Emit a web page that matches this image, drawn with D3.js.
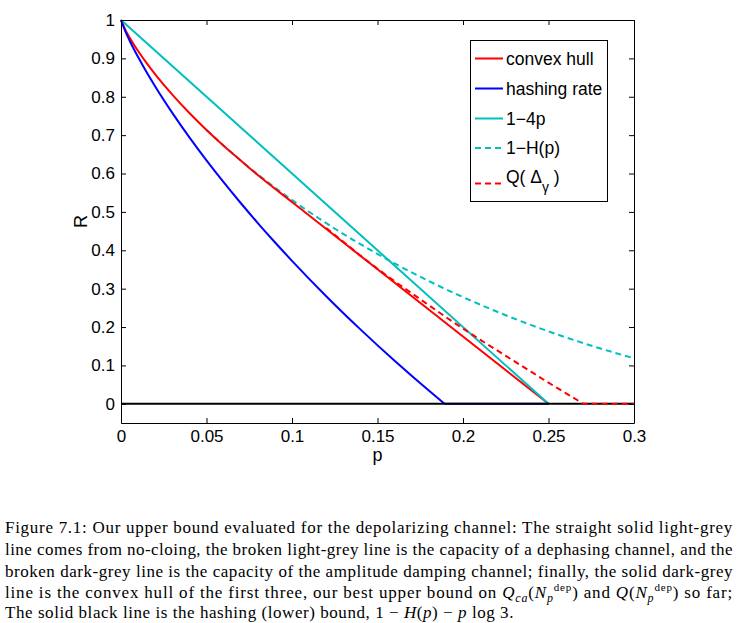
<!DOCTYPE html>
<html><head><meta charset="utf-8">
<script src="https://cdn.jsdelivr.net/npm/d3@7/dist/d3.min.js"></script>
<style>body{margin:0;background:#fff}</style>
</head><body><svg id="c" width="738" height="623"></svg>
<script>
// ---- data ----
const xTicks = [0, 0.05, 0.1, 0.15, 0.2, 0.25, 0.3];
const xTickLabels = ["0", "0.05", "0.1", "0.15", "0.2", "0.25", "0.3"];
const yTicks = [0, 0.1, 0.2, 0.3, 0.4, 0.5, 0.6, 0.7, 0.8, 0.9, 1];
const yTickLabels = ["0", "0.1", "0.2", "0.3", "0.4", "0.5", "0.6", "0.7", "0.8", "0.9", "1"];
const legendLabels = ["convex hull", "hashing rate", "1\u22124p", "1\u2212H(p)", "Q"];

const hullP = [0, 0.0025, 0.005, 0.01, 0.015, 0.02, 0.03, 0.04, 0.05, 0.06, 0.07, 0.08, 0.10, 0.15, 0.20, 0.25];
const hullR = [1, 0.9748, 0.9546, 0.9192, 0.8876, 0.8586, 0.8056, 0.7577, 0.7136, 0.6726, 0.6341, 0.5960, 0.5259, 0.3506, 0.1753, 0];

const hashP = [0, 0.0025, 0.005, 0.01, 0.015, 0.02, 0.03, 0.04, 0.05, 0.06, 0.07, 0.08, 0.09, 0.10, 0.12, 0.14, 0.16, 0.18, 0.1893, 0.25];
const hashR = [1, 0.9708, 0.9467, 0.9034, 0.8638, 0.8269, 0.7581, 0.6943, 0.6344, 0.5775, 0.5232, 0.4710, 0.4209, 0.3725, 0.2804, 0.1939, 0.1121, 0.0346, 0, 0];

const noCloneP = [0, 0.25];
const noCloneR = [1, 0];

const dephP = [0.05, 0.06, 0.07, 0.08, 0.09, 0.10, 0.12, 0.14, 0.16, 0.18, 0.20, 0.22, 0.24, 0.26, 0.28, 0.30];
const dephR = [0.7136, 0.6726, 0.6341, 0.5978, 0.5635, 0.5310, 0.4706, 0.4158, 0.3657, 0.3199, 0.2781, 0.2398, 0.2050, 0.1733, 0.1446, 0.1187];

const ampP = [0.12, 0.13, 0.14, 0.15, 0.16, 0.17, 0.18, 0.19, 0.20, 0.21, 0.22, 0.23, 0.24, 0.25, 0.26, 0.2705, 0.30];
const ampR = [0.458, 0.422, 0.386, 0.352, 0.319, 0.288, 0.257, 0.226, 0.196, 0.167, 0.139, 0.111, 0.083, 0.055, 0.028, 0, 0];

const zeroP = [0, 0.3];
const zeroR = [0, 0];

// ---- drawing ----
const RED = "#ff0000", BLUE = "#0000ff", CYAN = "#00bfbf";
const svg = d3.select("#c");
svg.append("rect").attr("width", 738).attr("height", 623).attr("fill", "#fff");

const x = d3.scaleLinear().domain([0, 0.3]).range([121, 634]);
const y = d3.scaleLinear().domain([-0.05, 1]).range([423, 20]);

const pts = (P, R) => P.map((p, i) => [p, R[i]]);
const lineM = d3.line().x(d => x(d[0])).y(d => y(d[1])).curve(d3.curveMonotoneX);
const lineL = d3.line().x(d => x(d[0])).y(d => y(d[1]));

const plot = svg.append("g");
function draw(data, gen, color, w, dash) {
  const p = plot.append("path").attr("d", gen(data)).attr("fill", "none")
    .attr("stroke", color).attr("stroke-width", w).attr("stroke-linejoin", "round");
  if (dash) p.attr("stroke-dasharray", dash);
  return p;
}
draw(pts(dephP, dephR), lineM, CYAN, 2, "6,4");
draw(pts(hullP, hullR), lineM, RED, 2);
draw(pts(noCloneP, noCloneR), lineL, CYAN, 2);
const hashAll = pts(hashP, hashR);
draw(hashAll.filter(d => d[0] <= 0.1893), lineM, BLUE, 2);
draw(hashAll.filter(d => d[0] >= 0.1893), lineL, BLUE, 2);
draw(pts(zeroP, zeroR), lineL, "#000", 2);
draw(pts(ampP, ampR), lineL, RED, 2, "6,4");

// axes
const axFont = "'Liberation Sans', Arial, sans-serif";
function styleAxis(g, showText) {
  g.attr("font-family", axFont).attr("font-size", 17);
  g.selectAll("path.domain").attr("stroke", "#000");
  g.selectAll(".tick line").attr("stroke", "#000");
  g.selectAll("text").attr("fill", "#000");
  if (!showText) g.selectAll("text").remove();
}
styleAxis(svg.append("g").attr("transform", `translate(0,${y(-0.05)})`)
  .call(d3.axisBottom(x).tickValues(xTicks).tickSizeInner(-5).tickSizeOuter(0).tickPadding(7)
    .tickFormat((d, i) => xTickLabels[i])), true);
styleAxis(svg.append("g").attr("transform", `translate(0,${y(1)})`)
  .call(d3.axisTop(x).tickValues(xTicks).tickSizeInner(-5).tickSizeOuter(0)), false);
styleAxis(svg.append("g").attr("transform", `translate(${x(0)},0)`)
  .call(d3.axisLeft(y).tickValues(yTicks).tickSizeInner(-5).tickSizeOuter(0).tickPadding(6)
    .tickFormat((d, i) => yTickLabels[i])), true);
styleAxis(svg.append("g").attr("transform", `translate(${x(0.3)},0)`)
  .call(d3.axisRight(y).tickValues(yTicks).tickSizeInner(-5).tickSizeOuter(0)), false);

// axis labels
svg.append("text").attr("x", (x(0) + x(0.3)) / 2).attr("y", 461).attr("text-anchor", "middle")
  .attr("font-family", axFont).attr("font-size", 18).text("p");
svg.append("text").attr("transform", `translate(87,${(y(-0.05) + y(1)) / 2}) rotate(-90)`)
  .attr("text-anchor", "middle").attr("font-family", axFont).attr("font-size", 18).text("R");

// legend
const lg = svg.append("g");
lg.append("rect").attr("x", 470.5).attr("y", 40.5).attr("width", 137).attr("height", 161)
  .attr("fill", "#fff").attr("stroke", "#000").attr("stroke-width", 1);
const legendStyles = [
  {c: RED, dash: null, yc: 58.5},
  {c: BLUE, dash: null, yc: 88.5},
  {c: CYAN, dash: null, yc: 118.5},
  {c: CYAN, dash: "6,4", yc: 148},
  {c: RED, dash: "6,4", yc: 183.5}
];
legendLabels.forEach((lab, i) => {
  const s = legendStyles[i];
  const l = lg.append("line").attr("x1", 475).attr("x2", 503).attr("y1", s.yc).attr("y2", s.yc)
    .attr("stroke", s.c).attr("stroke-width", 2);
  if (s.dash) l.attr("stroke-dasharray", s.dash);
  const t = lg.append("text").attr("x", 506).attr("y", s.yc + 6)
    .attr("font-family", axFont).attr("font-size", 17.5).attr("fill", "#000");
  if (i === 4) {
    t.attr("y", 183.5 - 1);
    t.append("tspan").text("Q( \u0394");
    t.append("tspan").attr("font-size", 14).attr("dy", 9).text("\u03b3");
    t.append("tspan").attr("dy", -9).text(" )");
  } else {
    t.text(lab);
  }
});

// caption
const capFont = "'Liberation Serif', 'Times New Roman', serif";
const cap = svg.append("g").attr("font-family", capFont).attr("font-size", 17).attr("fill", "#000");
const capY = [533, 555, 577, 598, 618];
const L1 = cap.append("text").attr("x", 5).attr("y", capY[0])
  .text("Figure 7.1: Our upper bound evaluated for the depolarizing channel: The straight solid light-grey");
const L2 = cap.append("text").attr("x", 5).attr("y", capY[1])
  .text("line comes from no-cloing, the broken light-grey line is the capacity of a dephasing channel, and the");
const L3 = cap.append("text").attr("x", 5).attr("y", capY[2])
  .text("broken dark-grey line is the capacity of the amplitude damping channel; finally, the solid dark-grey");
const L4 = cap.append("text").attr("x", 5).attr("y", capY[3]);
L4.append("tspan").text("line is the convex hull of the first three, our best upper bound on ");
L4.append("tspan").attr("font-style", "italic").text("Q");
L4.append("tspan").attr("font-style", "italic").attr("font-size", 12).attr("dy", 4).text("ca");
L4.append("tspan").attr("dy", -4).text("(");
L4.append("tspan").attr("font-style", "italic").text("N");
L4.append("tspan").attr("font-style", "italic").attr("font-size", 12).attr("dy", 4).text("p");
L4.append("tspan").attr("font-size", 11).attr("dy", -11).text("dep");
L4.append("tspan").attr("dy", 7).text(") and ");
L4.append("tspan").attr("font-style", "italic").text("Q");
L4.append("tspan").text("(");
L4.append("tspan").attr("font-style", "italic").text("N");
L4.append("tspan").attr("font-style", "italic").attr("font-size", 12).attr("dy", 4).text("p");
L4.append("tspan").attr("font-size", 11).attr("dy", -11).text("dep");
L4.append("tspan").attr("dy", 7).text(") so far;");
const L5 = cap.append("text").attr("x", 5).attr("y", capY[4]);
L5.append("tspan").text("The solid black line is the hashing (lower) bound, 1 \u2212 ");
L5.append("tspan").attr("font-style", "italic").text("H");
L5.append("tspan").text("(");
L5.append("tspan").attr("font-style", "italic").text("p");
L5.append("tspan").text(") \u2212 ");
L5.append("tspan").attr("font-style", "italic").text("p");
L5.append("tspan").text(" log 3.");

function justify(t, target) {
  const len = t.node().getBBox().width;
  const txt = t.node().textContent;
  const n = txt.length;
  const extra = target - len;
  if (n > 1) t.attr("letter-spacing", extra / n);
  const len2 = t.node().getBBox().width;
  const spaces = (txt.match(/ /g) || []).length;
  if (spaces > 0) t.attr("word-spacing", (target - len2) / spaces);
}
[L1, L2, L3, L4].forEach(t => justify(t, 728));
justify(L5, 509);
</script></body></html>
